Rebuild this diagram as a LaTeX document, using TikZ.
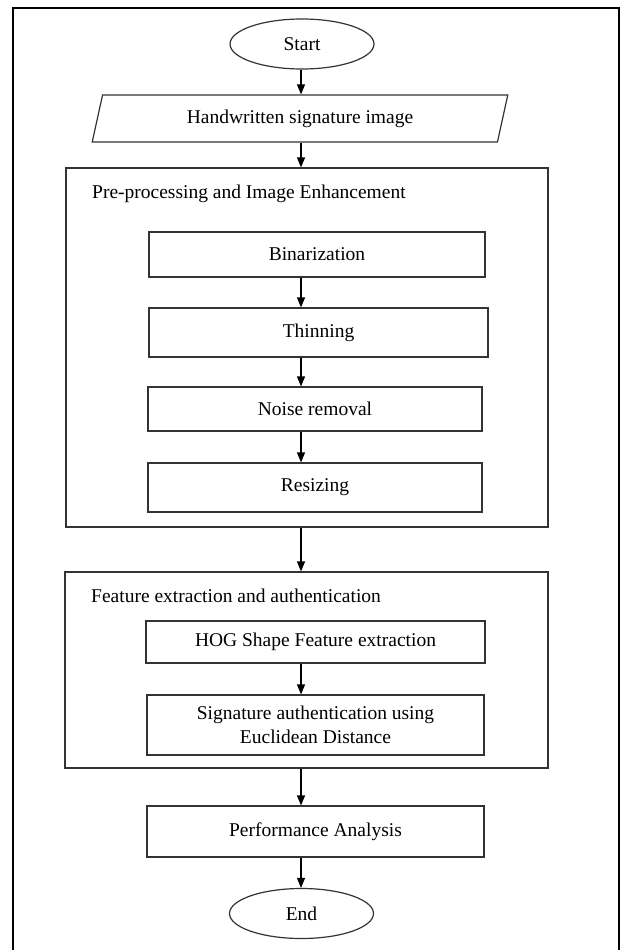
\documentclass[tikz,border=0pt]{standalone}
\usepackage{fontspec}
\setmainfont{Liberation Serif}
\usetikzlibrary{shapes.geometric,arrows.meta}
\tikzstyle{boxstyle}=[draw=black!80, line width=1.2pt, fill=white, text=black, text centered,
  font=\fontsize{19.5}{24}\selectfont]
\tikzstyle{procstyle}=[boxstyle, rectangle, minimum width=336, minimum height=46]
\tikzstyle{termstyle}=[boxstyle, ellipse, inner sep=0pt, minimum width=144, minimum height=50]
\tikzstyle{iostyle}=[boxstyle, trapezium, trapezium left angle=76, trapezium right angle=104,
  trapezium stretches=true, minimum width=416, minimum height=47]
\tikzstyle{groupstyle}=[draw=black!80, line width=1.2pt, rectangle, inner sep=0pt]
\tikzstyle{grouptitle}=[anchor=west, inner sep=0pt, font=\fontsize{19.5}{24}\selectfont]
\tikzstyle{line}=[draw, line width=1.2pt, -{Triangle[width=8pt,length=10pt]}]
\newcommand{\procbox}[3]{node (p#1) [procstyle,#2] {#3}}
\newcommand{\termbox}[2]{node (p#1) [termstyle] {#2}}
\newcommand{\groupbox}[3]{node (g#1) [groupstyle, minimum width=#2, minimum height=#3] {}}

\begin{document}
\begin{tikzpicture}[x=1pt, y=-1pt]
\useasboundingbox (0,0) rectangle (623,950);
% Outer frame
\draw[line width=2.6pt] (13,955) -- (13,8) -- (619,8) -- (619,955);
\coordinate (axis) at (301,0);

% Draw group frames
\path (307,347.5) \groupbox{1}{482}{359};
\path (306.5,670) \groupbox{2}{483}{196};
\path (92,194) node (t1) [grouptitle] {Pre-processing and Image Enhancement};
\path (91,596) node (t2) [grouptitle] {Feature extraction and authentication};

% Draw diagram elements
\path (302,44)      \termbox{start}{Start};
\path (300,118.5)   node (pinput) [iostyle] {Handwritten signature image};
\path (317,254.5)   \procbox{bin}{minimum height=45}{Binarization};
\path (318.5,332.5) \procbox{thin}{minimum width=339, minimum height=49}{Thinning};
\path (315,409)     \procbox{noise}{minimum width=334, minimum height=44}{Noise removal};
\path (315,487.5)   \procbox{resize}{minimum width=334, minimum height=49}{Resizing};
\path (315.5,642)   \procbox{hog}{minimum width=339, minimum height=42}{HOG Shape Feature extraction};
\path (315.5,725)   \procbox{sig}{minimum width=337, minimum height=60, align=center}{Signature authentication using\\Euclidean Distance};
\path (315.5,831.5) \procbox{perf}{minimum width=337, minimum height=51}{Performance Analysis};
\path (301.5,913.5) \termbox{end}{End};

% Draw arrows between elements
\path [line] (pstart.south -| axis) -- (pinput.north -| axis);
\path [line] (pinput.south -| axis) -- (g1.north -| axis);
\path [line] (pbin.south -| axis) -- (pthin.north -| axis);
\path [line] (pthin.south -| axis) -- (pnoise.north -| axis);
\path [line] (pnoise.south -| axis) -- (presize.north -| axis);
\path [line] (g1.south -| axis) -- (g2.north -| axis);
\path [line] (phog.south -| axis) -- (psig.north -| axis);
\path [line] (g2.south -| axis) -- (pperf.north -| axis);
\path [line] (pperf.south -| axis) -- (pend.north -| axis);

\end{tikzpicture}
\end{document}
